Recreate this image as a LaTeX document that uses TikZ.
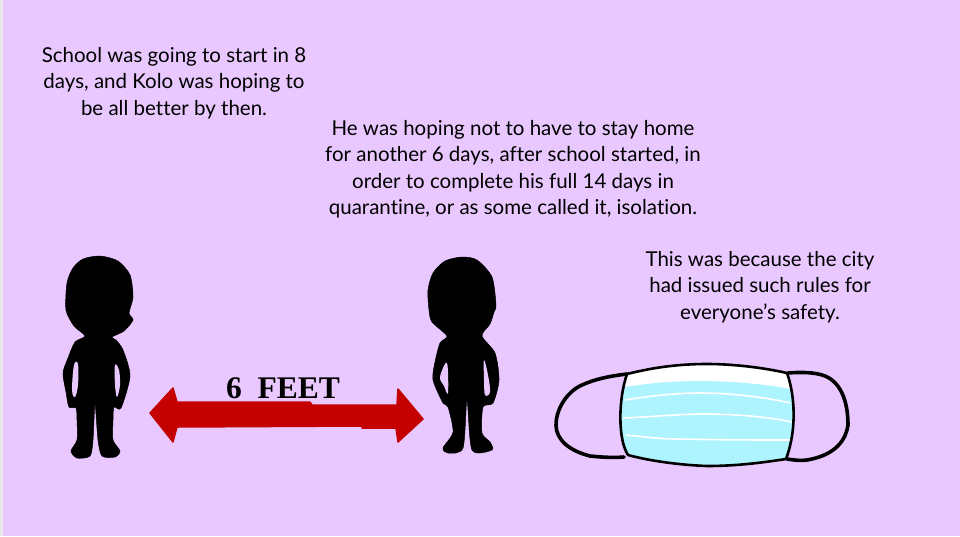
\documentclass[tikz,border=0pt]{standalone}
\usepackage{fontspec}
\setmainfont{Lato}[Ligatures=NoCommon]
\newfontfamily\feetfont{Liberation Serif}
\usepackage{tikz}
\usetikzlibrary{positioning}
\definecolor{lilac}{HTML}{E8C8FE}
\definecolor{strip}{HTML}{E9E9EC}
\definecolor{arrowred}{HTML}{C40000}
\definecolor{maskblue}{HTML}{AEF4FF}

\begin{document}
\begin{tikzpicture}[x=1pt,y=-1pt]
	\tikzstyle{story} = [align=center, font=\fontsize{20.5}{26.5}\selectfont, text=black, inner sep=0pt]
	\tikzstyle{figure} = [fill=black, draw=black, line width=0.5pt]
	\tikzstyle{pleat} = [draw=white, line width=1.6pt]
	\tikzstyle{strap} = [draw=black, line width=3.6pt, line cap=round, line join=round]

	\useasboundingbox (0,0) rectangle (960,536);
	\fill[lilac] (0,0) rectangle (960,536);
	\fill[strip] (0,0) rectangle (3,536);

	\node[story] (first) at (174,83) {School was going to start in 8\\days, and Kolo was hoping to\\be all better by then.};
	\node[story] (second) at (513,169) {He was hoping not to have to stay home\\for another 6 days, after school started, in\\order to complete his full 14 days in\\quarantine, or as some called it, isolation.};
	\node[story] (third) at (760,287) {This was because the city\\had issued such rules for\\everyone’s safety.};

	% people
	\draw[figure] plot[smooth cycle, tension=0.45] coordinates {(100,256) (83,259) (73,268) (67,283) (66,310) (74,326) (85,336) (75,342) (68,358) (63,373) (66,392) (69,407) (76,408) (77,420) (77,440) (71,451) (77,458) (90,456) (93,440) (95,404) (98,440) (102,456) (115,457) (120,451) (113,440) (113,420) (114,407) (121,408) (130,376) (123,350) (116,340) (112,337) (124,331) (133,320) (129,313) (133,297) (130,275) (118,261)};
	\draw[figure] plot[smooth cycle, tension=0.45] coordinates {(462,257) (445,261) (433,273) (428,290) (429,310) (432,322) (447,336) (440,343) (435,362) (433,380) (443,403) (448,407) (453,432) (443,448) (448,453) (463,448) (467,400) (472,450) (492,450) (490,442) (482,433) (483,407) (493,403) (499,380) (495,353) (482,336) (490,324) (494,312) (496,305) (492,277) (477,260)};
	% gaps between arms and body
	\fill[lilac] plot[smooth cycle, tension=0.6] coordinates {(74,365) (78,364) (78,385) (75,397) (72,390)};
	\fill[lilac] plot[smooth cycle, tension=0.6] coordinates {(115,365) (119,370) (120,385) (117,397) (115,385)};
	\fill[lilac] plot[smooth cycle, tension=0.6] coordinates {(447,363) (448,393) (444,386) (440,377)};
	\fill[lilac] plot[smooth cycle, tension=0.6] coordinates {(484,360) (488,375) (490,392) (485,395) (484,380)};

	% arrow
	\fill[arrowred, draw=arrowred, line width=1.5pt, line join=round] (150,413) -- (173,388) -- (177,402) -- (310,402) -- (312,405) -- (397,405) -- (398,389) -- (423,419) -- (398,442) -- (396,428) -- (362,428) -- (362,426) -- (177,427) -- (173,442) -- cycle;
	\node[font=\feetfont\bfseries\fontsize{31.5}{31.5}\selectfont, inner sep=0pt] (feet) at (283,388) {6\ \ FEET};

	% mask
	\draw[strap] (627,374) .. controls (610,376) and (595,379) .. (582,385) .. controls (568,391) and (556,408) .. (556,425) .. controls (556,440) and (570,451) .. (590,456) .. controls (600,457) and (612,458) .. (624,457);
	\draw[strap] (788,373) .. controls (800,372) and (815,372) .. (825,376) .. controls (840,382) and (848,400) .. (848,425) .. controls (845,445) and (830,456) .. (807,460) .. controls (800,461) and (794,460) .. (787,459);
	\fill[white] (627,374) .. controls (655,367) and (680,364) .. (707,364) .. controls (735,364) and (765,368) .. (787,373) -- (790,392) -- (624,392) -- cycle;
	\fill[maskblue] (625,387) .. controls (650,383) and (675,381) .. (700,381) .. controls (730,381) and (765,384) .. (790,389) .. controls (794,405) and (795,430) .. (786,459) .. controls (760,463) and (735,466) .. (707,466) .. controls (680,465) and (650,461) .. (628,455) .. controls (620,440) and (619,410) .. (625,387) -- cycle;
	\draw[pleat] (625,400) .. controls (650,396) and (675,393) .. (700,393) .. controls (730,393) and (765,397) .. (790,403);
	\draw[pleat] (623,418) .. controls (650,417) and (680,414) .. (703,414) .. controls (735,414) and (770,417) .. (792,422);
	\draw[pleat] (626,435) .. controls (645,437) and (660,439) .. (680,439) .. controls (720,440) and (760,440) .. (790,440);
	\draw[draw=black, line width=2.6pt, line join=round] (627,374) .. controls (655,367) and (680,364) .. (707,364) .. controls (735,364) and (765,368) .. (787,373) .. controls (795,395) and (797,430) .. (786,459) .. controls (760,463) and (735,466) .. (707,466) .. controls (680,465) and (650,461) .. (628,455) .. controls (618,440) and (618,400) .. (627,374) -- cycle;
\end{tikzpicture}
\end{document}
